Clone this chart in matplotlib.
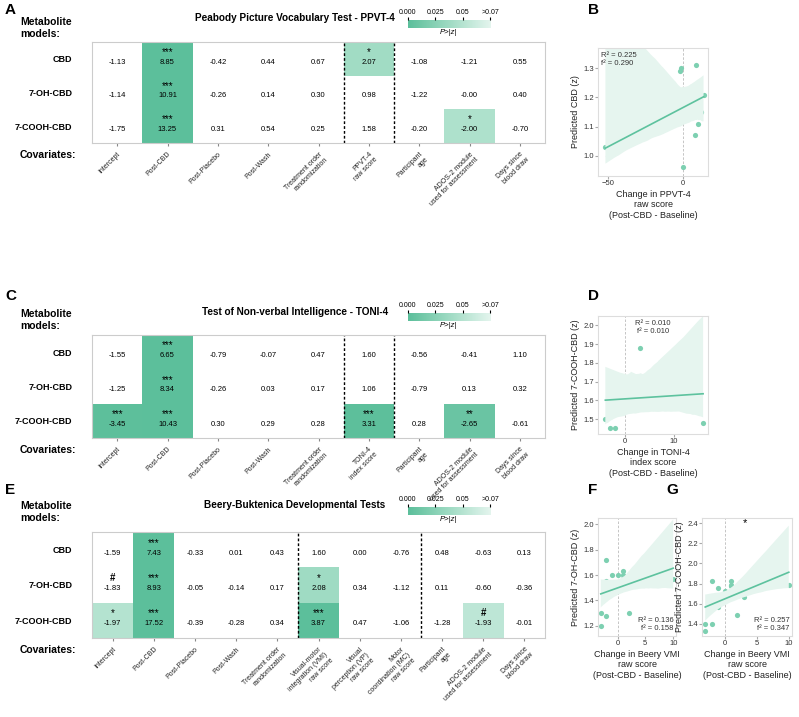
import numpy as np
import matplotlib
matplotlib.use("Agg")
import matplotlib.pyplot as plt
from matplotlib.colors import LinearSegmentedColormap, Normalize
import seaborn as sns

plt.rcParams['font.family'] = ['Liberation Sans', 'DejaVu Sans']

rows = ["CBD", "7-OH-CBD", "7-COOH-CBD"]
colsA = ["Intercept", "Post-CBD", "Post-Placebo", "Post-Wash", "Treatment order\nrandomization",
         "PPVT-4\nraw score", "Participant\nage", "ADOS-2 module\nused for assessment", "Days since\nblood draw"]
valsA = [[-1.13, 8.85, -0.42, 0.44, 0.67, 2.07, -1.08, -1.21, 0.55],
         [-1.14, 10.91, -0.26, 0.14, 0.30, 0.98, -1.22, -0.00, 0.40],
         [-1.75, 13.25, 0.31, 0.54, 0.25, 1.58, -0.20, -2.00, -0.70]]
pA = [[0.26, 0.0, 0.67, 0.66, 0.5, 0.039, 0.28, 0.23, 0.58],
      [0.25, 0.0, 0.8, 0.89, 0.76, 0.33, 0.22, 1.0, 0.69],
      [0.08, 0.0, 0.76, 0.59, 0.8, 0.11, 0.84, 0.046, 0.48]]
sigA = [["", "***", "", "", "", "*", "", "", ""],
        ["", "***", "", "", "", "", "", "", ""],
        ["", "***", "", "", "", "", "", "*", ""]]

colsC = ["Intercept", "Post-CBD", "Post-Placebo", "Post-Wash", "Treatment order\nrandomization",
         "TONI-4\nindex score", "Participant\nage", "ADOS-2 module\nused for assessment", "Days since\nblood draw"]
valsC = [[-1.55, 6.65, -0.79, -0.07, 0.47, 1.60, -0.56, -0.41, 1.10],
         [-1.25, 8.34, -0.26, 0.03, 0.17, 1.06, -0.79, 0.13, 0.32],
         [-3.45, 10.43, 0.30, 0.29, 0.28, 3.31, 0.28, -2.65, -0.61]]
pC = [[0.12, 0.0, 0.43, 0.94, 0.64, 0.11, 0.58, 0.68, 0.27],
      [0.21, 0.0, 0.8, 0.98, 0.87, 0.29, 0.43, 0.9, 0.75],
      [0.0006, 0.0, 0.76, 0.77, 0.78, 0.001, 0.78, 0.008, 0.54]]
sigC = [["", "***", "", "", "", "", "", "", ""],
        ["", "***", "", "", "", "", "", "", ""],
        ["***", "***", "", "", "", "***", "", "**", ""]]

colsE = ["Intercept", "Post-CBD", "Post-Placebo", "Post-Wash", "Treatment order\nrandomization",
         "Visual-motor\nintegration (VMI)\nraw score", "Visual\nperception (VP)\nraw score",
         "Motor\ncoordination (MC)\nraw score", "Participant\nage", "ADOS-2 module\nused for assessment",
         "Days since\nblood draw"]
valsE = [[-1.59, 7.43, -0.33, 0.01, 0.43, 1.60, 0.00, -0.76, 0.48, -0.63, 0.13],
         [-1.83, 8.93, -0.05, -0.14, 0.17, 2.08, 0.34, -1.12, 0.11, -0.60, -0.36],
         [-1.97, 17.52, -0.39, -0.28, 0.34, 3.87, 0.47, -1.06, -1.28, -1.93, -0.01]]
pE = [[0.11, 0.0, 0.74, 0.99, 0.67, 0.11, 1.0, 0.45, 0.63, 0.53, 0.9],
      [0.078, 0.0, 0.96, 0.89, 0.87, 0.038, 0.73, 0.26, 0.91, 0.55, 0.72],
      [0.049, 0.0, 0.7, 0.78, 0.73, 0.0001, 0.64, 0.29, 0.2, 0.054, 0.99]]
sigE = [["", "***", "", "", "", "", "", "", "", "", ""],
        ["#", "***", "", "", "", "*", "", "", "", "", ""],
        ["*", "***", "", "", "", "***", "", "", "", "#", ""]]

# scatter data
bx = [-52, -50, -2, -1, 0, 2, 2, 8, 9, 10, 12, 14]
by = [1.03, 1.00, 1.29, 1.30, 0.96, 1.22, 1.20, 1.07, 1.31, 1.11, 1.15, 1.21]
dx = [-4, -3, -2, -1, 0, 3, 7, 7, 9, 16]
dy = [1.50, 1.45, 1.45, 1.72, 1.71, 1.88, 1.71, 1.57, 1.66, 1.48]
fx = [-3, -3, -2, -2, -2, -2, -1, -1, -1, 0, 1, 1, 1, 1, 2, 3, 4, 10]
fy = [1.20, 1.30, 1.72, 1.55, 1.45, 1.28, 1.52, 1.48, 1.60, 1.60, 1.63, 1.60, 1.57, 1.52, 1.30, 1.60, 1.58, 1.57]
gx = [-3, -3, -2, -2, -2, -1, -1, -1, 0, 1, 1, 1, 1, 2, 3, 4, 10]
gy = [1.40, 1.33, 1.83, 1.65, 1.40, 1.76, 1.60, 1.57, 1.73, 1.83, 1.79, 1.73, 1.78, 1.49, 1.67, 1.86, 1.79]

GREEN = "#5dc29e"
cmap = LinearSegmentedColormap.from_list("g", ["#5cbf9b", "#9fdbc3", "#e4f5ee"])
cmap.set_over("white")
norm = Normalize(0, 0.075)

fig = plt.figure(figsize=(7.99, 7.17), dpi=100)
H = 717.0

def fr(x0, y0, x1, y1):
    return [x0 / 799, 1 - y1 / H, (x1 - x0) / 799, (y1 - y0) / H]

def heat(rect, cols, vals, pv, sig, dashes, title, ty, cbrect, covy, topy):
    ax = fig.add_axes(rect)
    nr, nc = len(rows), len(cols)
    pv = np.array(pv)
    ax.imshow(pv, cmap=cmap, norm=norm, aspect="auto", extent=(-0.5, nc - 0.5, nr - 0.5, -0.5))
    for i in range(nr):
        for j in range(nc):
            ax.text(j, i + 0.1, f"{vals[i][j]:.2f}", ha="center", va="center", fontsize=5.5)
            if sig[i][j]:
                ax.text(j, i - 0.2, sig[i][j], ha="center", va="center", fontsize=7,
                        fontweight="bold" if sig[i][j] == "#" else "normal")
    for d in dashes:
        ax.axvline(d, color="black", ls=(0, (2, 1.5)), lw=1)
    ax.set_xlim(-0.5, nc - 0.5); ax.set_ylim(nr - 0.5, -0.5)
    ax.set_yticks(range(nr)); ax.set_yticklabels(rows, fontsize=6.5, fontweight="bold")
    ax.set_xticks(range(nc)); ax.set_xticklabels(cols, fontsize=5, rotation=45, ha="right",
                                                  rotation_mode="anchor", color="#222222")
    ax.tick_params(length=0, pad=14, axis="y")
    ax.tick_params(length=2, axis="x", color="#888888")
    for s in ax.spines.values():
        s.set_color("#cccccc"); s.set_linewidth(0.8)
    fig.text(295 / 799, 1 - ty / H, title, ha="center", va="center", fontsize=7.2, fontweight="bold")
    fig.text(20 / 799, 1 - topy / H, "Metabolite\nmodels:", ha="left", va="center", fontsize=7.5,
             fontweight="bold", linespacing=1.2)
    fig.text(20 / 799, 1 - covy / H, "Covariates:", ha="left", va="center", fontsize=7.5, fontweight="bold")
    cax = fig.add_axes(cbrect)
    grad = np.linspace(0, 0.075, 200)[None, :]
    cax.imshow(grad, cmap=cmap, norm=norm, aspect="auto", extent=(0, 0.075, 0, 1))
    cax.set_yticks([])
    cax.xaxis.tick_top()
    cax.set_xticks([0, 0.025, 0.05, 0.075]); cax.set_xticklabels(["0.000", "0.025", "0.05", ">0.07"], fontsize=5)
    cax.tick_params(length=2, pad=1)
    for s in cax.spines.values():
        s.set_visible(False)
    cax.set_xlabel("P>|z|", fontsize=5.5, style="italic", labelpad=1)

heat(fr(92, 42, 545, 143), colsA, valsA, pA, sigA, [4.5, 5.5],
     "Peabody Picture Vocabulary Test - PPVT-4", 18, fr(408, 20, 490, 28), 155, 28)
heat(fr(92, 335, 545, 438), colsC, valsC, pC, sigC, [4.5, 5.5],
     "Test of Non-verbal Intelligence - TONI-4", 312, fr(408, 313, 490, 321), 450, 320)
heat(fr(92, 532, 545, 638), colsE, valsE, pE, sigE, [4.5, 7.5],
     "Beery-Buktenica Developmental Tests", 505, fr(408, 507, 490, 515), 650, 512)

def scat(rect, x, y, xlabel, ylabel, ann, annpos, xticks, yticks, xlim, ylim):
    ax = fig.add_axes(rect)
    sns.regplot(x=np.array(x), y=np.array(y), ax=ax, color=GREEN, ci=95, seed=1,
                scatter_kws=dict(s=14, alpha=1, linewidths=0, color="#7dd0b1"),
                line_kws=dict(lw=1.2))
    for c in ax.collections[1:]:
        c.set_facecolor("#e6f5ef"); c.set_alpha(1)
    ax.axvline(0, color="#bbbbbb", ls=(0, (3, 2)), lw=0.6, zorder=0)
    ax.set_xlim(*xlim); ax.set_ylim(*ylim)
    ax.set_xticks(xticks); ax.set_yticks(yticks)
    ax.tick_params(labelsize=5.5, length=2, color="#aaaaaa", pad=1, labelcolor="#333333")
    ax.set_xlabel(xlabel, fontsize=6.5, labelpad=2, color="#222222")
    ax.set_ylabel(ylabel, fontsize=6.5, labelpad=2, color="#222222")
    for s in ax.spines.values():
        s.set_color("#dddddd")
    ax.text(*annpos, ann, transform=ax.transAxes, fontsize=5.5, color="#333333",
            ha="left" if annpos[0] < 0.5 else ("center" if annpos[0] == 0.5 else "right"),
            va="top" if annpos[1] > 0.5 else "bottom", linespacing=1.2)
    return ax

scat(fr(598, 48, 708, 176), bx, by, "Change in PPVT-4\nraw score\n(Post-CBD - Baseline)",
     "Predicted CBD (z)", "R² = 0.225\nf² = 0.290", (0.03, 0.97), [-50, 0], [1.0, 1.1, 1.2, 1.3],
     (-57, 17), (0.93, 1.37))
scat(fr(598, 316, 708, 434), dx, dy, "Change in TONI-4\nindex score\n(Post-CBD - Baseline)",
     "Predicted 7-COOH-CBD (z)", "R² = 0.010\nf² = 0.010", (0.5, 0.97), [0, 10],
     [1.5, 1.6, 1.7, 1.8, 1.9, 2.0], (-5.5, 17), (1.42, 2.05))
scat(fr(598, 518, 676, 636), fx, fy, "Change in Beery VMI\nraw score\n(Post-CBD - Baseline)",
     "Predicted 7-OH-CBD (z)", "R² = 0.136\nf² = 0.158", (0.97, 0.03), [0, 5, 10],
     [1.2, 1.4, 1.6, 1.8, 2.0], (-3.5, 10.5), (1.12, 2.05))
axg = scat(fr(702, 518, 792, 636), gx, gy, "Change in Beery VMI\nraw score\n(Post-CBD - Baseline)",
           "Predicted 7-COOH-CBD (z)", "R² = 0.257\nf² = 0.347", (0.97, 0.03), [0, 5, 10],
           [1.4, 1.6, 1.8, 2.0, 2.2, 2.4], (-3.5, 10.5), (1.28, 2.45))
axg.text(3.2, 2.4, "*", ha="center", va="center", fontsize=8)

for lab, x, y in [("A", 5, 10), ("B", 588, 10), ("C", 5, 296), ("D", 588, 296),
                  ("E", 5, 490), ("F", 588, 490), ("G", 666, 490)]:
    fig.text(x / 799, 1 - y / H, lab, fontsize=11, fontweight="bold", ha="left", va="center")

fig.savefig("out.png", dpi=100)
